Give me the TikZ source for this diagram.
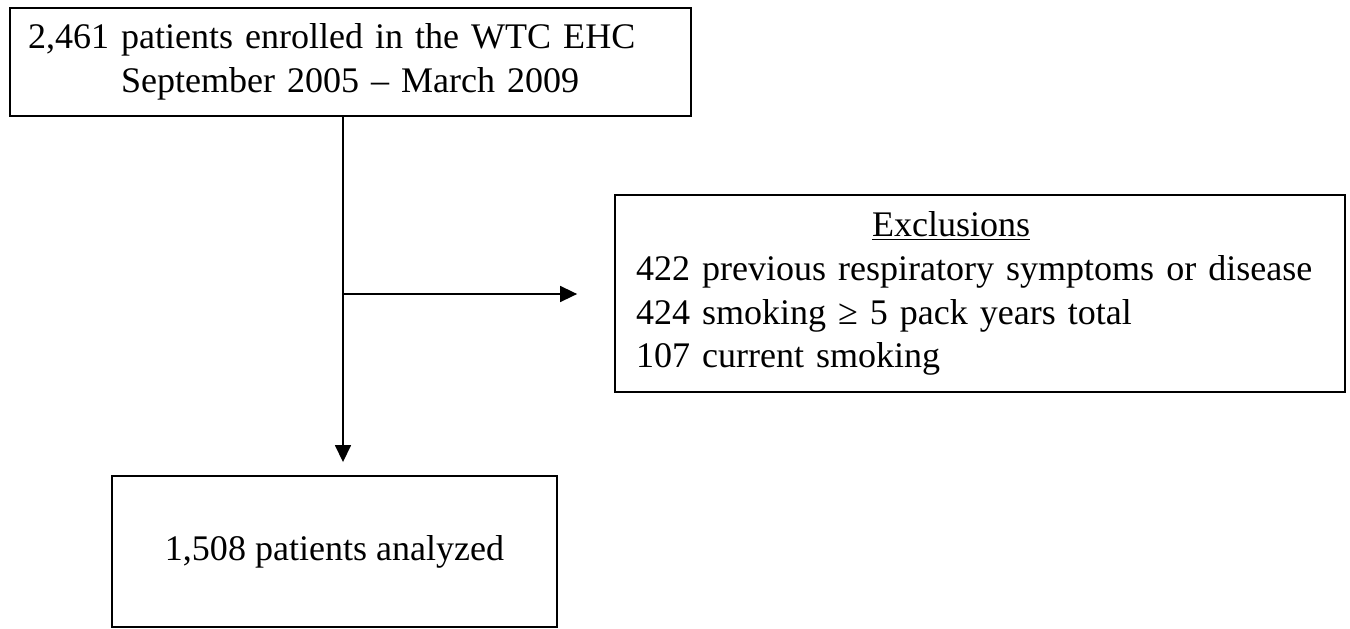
\documentclass[tikz,border=0pt]{standalone}
\usepackage{fontspec}
\setmainfont{Liberation Serif}
\usetikzlibrary{arrows.meta}

\tikzset{
  flowbox/.style={draw, line width=1.1pt, inner sep=0pt, font=\fontsize{20.5}{25}\selectfont},
  flowline/.style={line width=0.9pt, >={Triangle[length=0.34cm,width=0.32cm]}}
}

\begin{document}
\begin{tikzpicture}[x=0.02cm,y=-0.02cm]
  \useasboundingbox (0,0) rectangle (1350,629);
  \node[flowbox, minimum width=13.62cm, minimum height=2.16cm,
        text width=12.9cm, align=left] (enroll) at (350.5,62)
    {2,461 patients enrolled in the WTC EHC\\
     \hspace*{1.86cm}September 2005 -- March 2009};
  \node[flowbox, minimum width=14.6cm, minimum height=3.94cm,
        text width=13.76cm, align=left] (excl) at (980,293.5)
    {\hspace*{4.72cm}\underline{Exclusions}\\
     422 previous respiratory symptoms or disease\\
     424 smoking ≥ 5 pack years total\\
     107 current smoking};
  \node[flowbox, minimum width=8.9cm, minimum height=3.02cm] (analyzed) at (334.5,551.5)
    {1,508 patients analyzed};
  \coordinate (split) at (343,294);
  \draw[flowline,->,shorten >=0.26cm] (enroll.south -| split) -- (analyzed.north -| split);
  \draw[flowline,->,shorten >=0.74cm] (split) -- (excl.west |- split);
\end{tikzpicture}
\end{document}
